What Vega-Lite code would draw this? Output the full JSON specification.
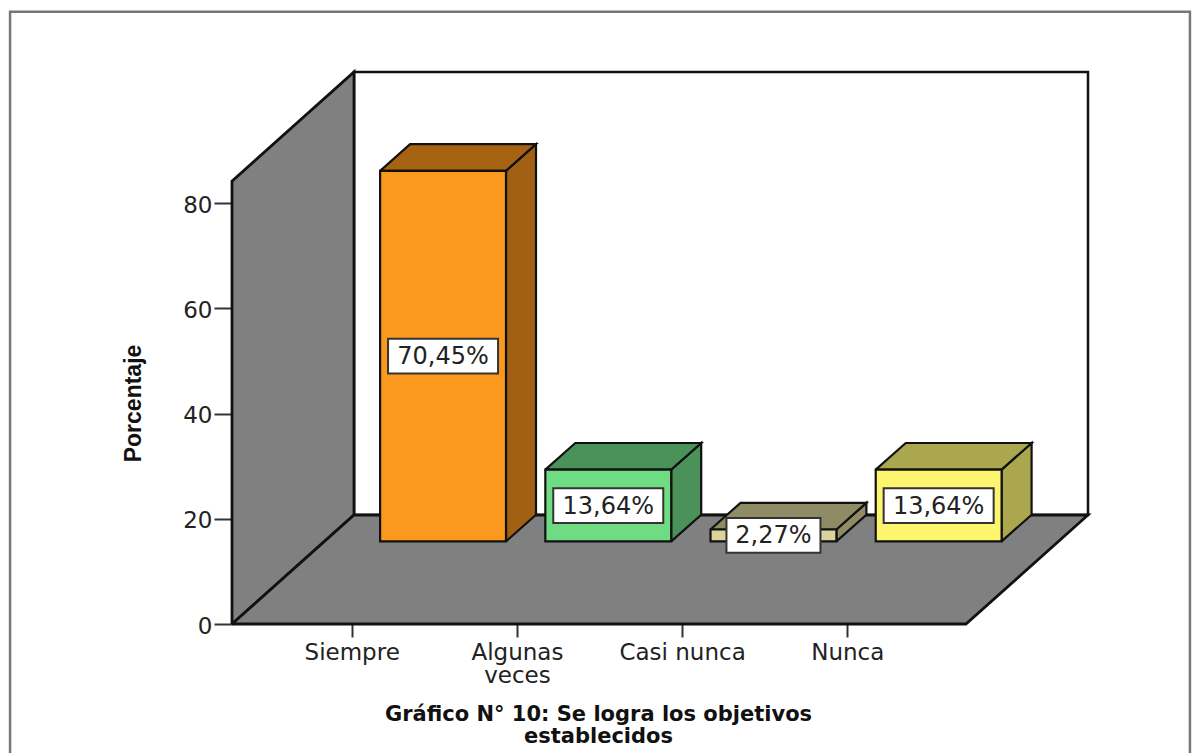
{
"$schema":"https://vega.github.io/schema/vega-lite/v6.json",
"width":856,"height":552,
"autosize":{"type":"none"},
"padding":{"left":232,"top":72,"right":112,"bottom":129},
"background":"white",
"config":{"view":{"stroke":null},"axis":{"grid":false,"domain":false}},
"datasets":{
"barras":[
{"categoria":"Siempre","orden":0,"porcentaje":70.45,"etiqueta":"70,45%"},
{"categoria":"Algunas veces","orden":1,"porcentaje":13.64,"etiqueta":"13,64%"},
{"categoria":"Casi nunca","orden":2,"porcentaje":2.27,"etiqueta":"2,27%"},
{"categoria":"Nunca","orden":3,"porcentaje":13.64,"etiqueta":"13,64%"}
],
"planos":[
{"plano":"pared","ord":0,"x":-0.7246,"y":0},
{"plano":"pared","ord":1,"x":-0.7246,"y":84.2},
{"plano":"pared","ord":2,"x":0.014,"y":104.94},
{"plano":"pared","ord":3,"x":0.014,"y":20.72},
{"plano":"pared","ord":4,"x":-0.7246,"y":0},
{"plano":"suelo","ord":0,"x":-0.7246,"y":0},
{"plano":"suelo","ord":1,"x":3.718,"y":0},
{"plano":"suelo","ord":2,"x":4.457,"y":20.72},
{"plano":"suelo","ord":3,"x":0.014,"y":20.72},
{"plano":"suelo","ord":4,"x":-0.7246,"y":0}
],
"marco":[{"x":-2.068,"x2":5.074,"y":116.4,"y2":-26}],
"fondo":[{"x":0.014,"x2":4.457,"y":104.94,"y2":20.72}]
},
"encoding":{
"x":{"field":"x","type":"quantitative","scale":{"domain":[-0.7246,4.457],"nice":false,"zero":false},
"axis":{"values":[0,1,2,3],"labelExpr":"[['Siempre'],['Algunas','veces'],['Casi nunca'],['Nunca']][datum.value]","labelFont":"DejaVu Sans","labelFontSize":23,"labelColor":"#222","labelLineHeight":23,"labelPadding":4,"labelOverlap":false,"labelFlush":false,"tickSize":13,"tickWidth":2,"tickColor":"#333","title":["Gráfico N° 10: Se logra los objetivos","establecidos"],"titleFont":"DejaVu Sans","titleFontWeight":"bold","titleFontSize":21,"titleColor":"#111","titleLineHeight":22,"titleX":366,"titleY":96,"titleBaseline":"alphabetic"}},
"y":{"field":"y","type":"quantitative","scale":{"domain":[0,104.94],"nice":false,"zero":false},
"axis":{"values":[0,20,40,60,80],"labelFont":"DejaVu Sans","labelFontSize":23,"labelColor":"#222","labelPadding":2,"labelOffset":2,"tickSize":18,"tickWidth":2,"tickColor":"#333","title":"Porcentaje","titleFont":"Liberation Sans","titleFontWeight":"bold","titleFontSize":23,"titleColor":"#111","titleX":-87,"titleY":331,"titleAngle":-90}}
},
"layer":[
{"data":{"name":"marco"},"mark":{"type":"rect","filled":false,"stroke":"#777777","strokeWidth":2.5,"clip":false},"encoding":{"x2":{"field":"x2"},"y2":{"field":"y2"}}},
{"data":{"name":"fondo"},"mark":{"type":"rect","fill":"white","stroke":"#111111","strokeWidth":2.5},"encoding":{"x2":{"field":"x2"},"y2":{"field":"y2"}}},
{"data":{"name":"planos"},"mark":{"type":"line","fill":"#808080","filled":true,"stroke":"#111111","strokeWidth":2.8,"strokeJoin":"miter"},"encoding":{"order":{"field":"ord"},"detail":{"field":"plano"}}},
{"data":{"name":"barras"},
"transform":[
{"calculate":"datum.orden+0.172","as":"a"},{"calculate":"datum.orden+0.934","as":"b"},{"calculate":"15.7+datum.porcentaje","as":"t"},
{"calculate":"[datum.b,datum.b+0.1816,datum.b+0.1816,datum.b,datum.b]","as":"xs"},
{"calculate":"[15.7,20.77,datum.t+5.07,datum.t,15.7]","as":"ys"},
{"calculate":"[0,1,2,3,4]","as":"os"},
{"flatten":["xs","ys","os"],"as":["x","y","ord"]}],
"mark":{"type":"line","filled":true,"stroke":"#111111","strokeWidth":2.2,"strokeJoin":"miter"},
"encoding":{"order":{"field":"ord"},"fill":{"field":"categoria","type":"nominal","legend":null,"scale":{"domain":["Siempre","Algunas veces","Casi nunca","Nunca"],"range":["#a26112","#4b925a","#8f8b65","#aaa74f"]}}}},
{"data":{"name":"barras"},
"transform":[
{"calculate":"datum.orden+0.172","as":"a"},{"calculate":"datum.orden+0.934","as":"b"},{"calculate":"15.7+datum.porcentaje","as":"t"},
{"calculate":"[datum.a,datum.a+0.1816,datum.b+0.1816,datum.b,datum.a]","as":"xs"},
{"calculate":"[datum.t,datum.t+5.07,datum.t+5.07,datum.t,datum.t]","as":"ys"},
{"calculate":"[0,1,2,3,4]","as":"os"},
{"flatten":["xs","ys","os"],"as":["x","y","ord"]}],
"mark":{"type":"line","filled":true,"stroke":"#111111","strokeWidth":2.2,"strokeJoin":"miter"},
"encoding":{"order":{"field":"ord"},"fill":{"field":"categoria","type":"nominal","legend":null,"scale":{"domain":["Siempre","Algunas veces","Casi nunca","Nunca"],"range":["#a66412","#4b925a","#8f8b65","#aaa74f"]}}}},
{"data":{"name":"barras"},
"transform":[{"calculate":"datum.orden+0.172","as":"x"},{"calculate":"datum.orden+0.934","as":"x2"},{"calculate":"15.7","as":"y"},{"calculate":"15.7+datum.porcentaje","as":"y2"}],
"mark":{"type":"rect","stroke":"#111111","strokeWidth":2.2},
"encoding":{"x2":{"field":"x2"},"y2":{"field":"y2"},"fill":{"field":"categoria","type":"nominal","legend":null,"scale":{"domain":["Siempre","Algunas veces","Casi nunca","Nunca"],"range":["#fb991f","#6fdc84","#dcd29b","#fdf56e"]}}}},
{"data":{"name":"barras"},
"transform":[{"calculate":"(7+8*length(datum.etiqueta))/165.2","as":"hw"},{"calculate":"datum.orden+0.553-datum.hw","as":"x"},{"calculate":"datum.orden+0.553+datum.hw","as":"x2"},{"calculate":"15.7+datum.porcentaje/2-3.3","as":"y"},{"calculate":"15.7+datum.porcentaje/2+3.3","as":"y2"}],
"mark":{"type":"rect","fill":"white","stroke":"#333333","strokeWidth":2},
"encoding":{"x2":{"field":"x2"},"y2":{"field":"y2"}}},
{"data":{"name":"barras"},
"transform":[{"calculate":"datum.orden+0.553","as":"x"},{"calculate":"15.7+datum.porcentaje/2","as":"y"}],
"mark":{"type":"text","font":"DejaVu Sans","fontSize":24,"color":"#222222","align":"center","baseline":"middle","dy":1},
"encoding":{"text":{"field":"etiqueta"}}}
],
"resolve":{"scale":{"fill":"independent"}}
}
